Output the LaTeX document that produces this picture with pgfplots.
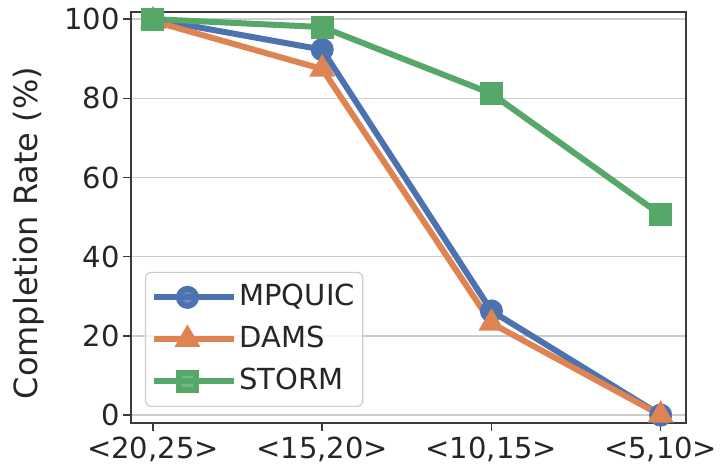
\documentclass[border=0pt]{standalone}
\usepackage{fontspec}
\setmainfont{DejaVu Sans}
\usepackage{pgfplots}
\pgfplotsset{compat=1.18}
\usetikzlibrary{calc}

\definecolor{cblue}{HTML}{4C72B0}
\definecolor{corange}{HTML}{DD8452}
\definecolor{cgreen}{HTML}{55A868}
\definecolor{spine}{HTML}{3A3A3A}
\definecolor{gridc}{HTML}{CCCCCC}

\begin{document}
\begin{tikzpicture}
\begin{axis}[
  name=ax,
  scale only axis,
  width=555pt, height=411pt,
  xmin=-0.13, xmax=3.15,
  ymin=-2, ymax=101.8,
  xtick={0,1,2,3},
  xticklabels={{<20,25>},{<15,20>},{<10,15>},{<5,10>}},
  ytick={0,20,40,60,80,100},
  /pgf/number format/assume math mode=true,
  ymajorgrids,
  grid style={gridc, line width=1.6pt},
  axis line style={spine, line width=1.6pt},
  tick style={spine, line width=1.6pt},
  tick align=outside,
  major tick length=8pt,
  xtick pos=bottom, ytick pos=left,
  ticklabel style={font=\fontsize{29}{34}\selectfont, text=black!85},
  xticklabel style={inner sep=6pt},
  yticklabel style={inner sep=3pt},
  ylabel={Completion Rate (\%)},
  ylabel style={font=\fontsize{32}{38}\selectfont, text=black!85,
    at={(axis description cs:-0.184,0.462)}, anchor=center},
  legend style={
    at={(0.025,0.039)}, anchor=south west,
    draw=gridc, line width=1.2pt, rounded corners=6pt,
    fill=white, fill opacity=0.8, text opacity=1,
    font=\fontsize{29}{34}\selectfont, text=black!85,
    nodes={inner sep=2pt, text height=22pt, text depth=6pt},
    row sep=10pt, inner xsep=6pt, inner ysep=9pt,
    cells={anchor=west},
  },
  legend image code/.code={
    \path (0pt,0pt) -- (80pt,0pt);
    \draw[#1, mark=none] (0pt,0pt) -- (66pt,0pt);
    \draw[#1, only marks] plot coordinates {(33pt,0pt)};
  },
  every axis plot/.append style={line width=6pt,
    mark options={solid, draw=white, line width=1pt}},
]
\addplot[cblue, mark=*, mark size=8.5pt, mark options={fill=cblue}]
  coordinates {(0,100) (1,92.3) (2,26.3) (3,0)};
\addlegendentry{MPQUIC}
\addplot[corange, mark=triangle*, mark size=9pt, mark options={fill=corange}]
  coordinates {(0,99.5) (1,87.4) (2,23.2) (3,0)};
\addlegendentry{DAMS}
\addplot[cgreen, mark=square*, mark size=8.5pt, mark options={fill=cgreen}]
  coordinates {(0,100) (1,98) (2,81.2) (3,50.6)};
\addlegendentry{STORM}
\end{axis}
\pgfresetboundingbox
\path[use as bounding box] ($(ax.south west)+(-131pt,-45pt)$) rectangle ($(ax.north east)+(39pt,12pt)$);
\end{tikzpicture}
\end{document}
